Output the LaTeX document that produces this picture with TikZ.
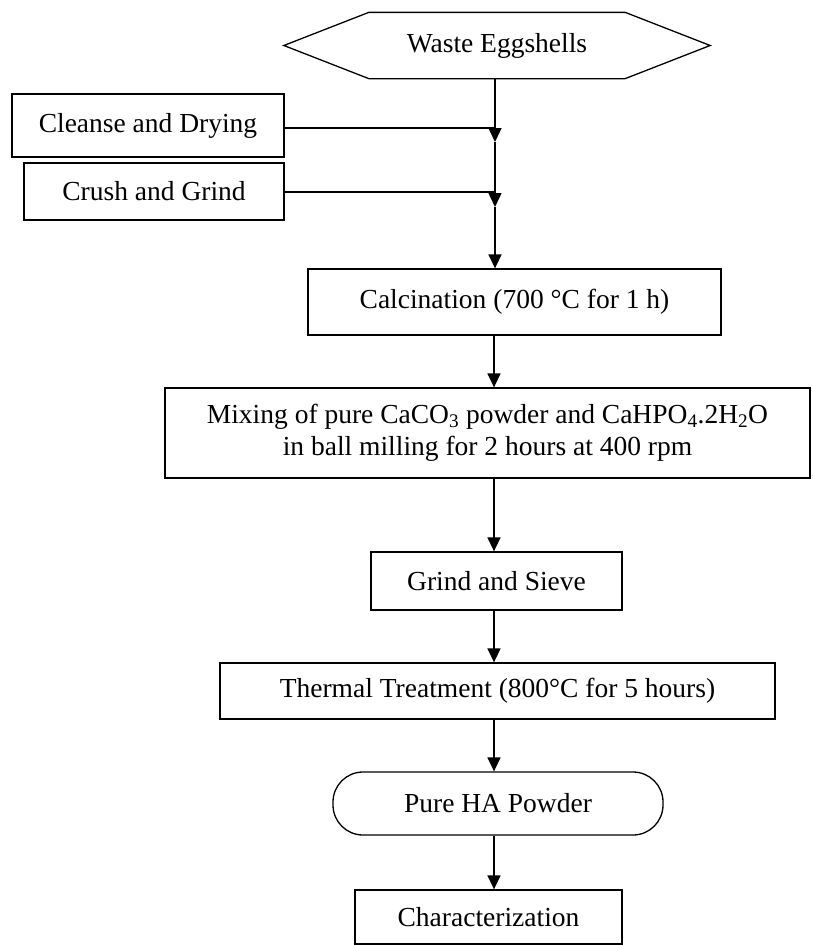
\documentclass[tikz,border=0pt]{standalone}
\usepackage{fontspec}
\setmainfont{Liberation Serif}
\usetikzlibrary{arrows.meta,calc}
\begin{document}
\begin{tikzpicture}[x=1pt,y=-1pt,
  box/.style={draw, line width=1.3pt, inner sep=0pt, align=center,
    font=\fontsize{27.5}{32}\selectfont},
  ln/.style={line width=1.5pt},
  arr/.style={line width=1.5pt, -{Triangle[length=14pt,width=13pt]}}]
\useasboundingbox (0,0) rectangle (812,945);
% nodes
\node[box, draw=none, minimum width=425pt, minimum height=65pt] (hex) at (497,45.5) {Waste Eggshells};
\draw[line width=1.3pt] (hex.west) -- ([xshift=85pt]hex.north west) -- ([xshift=-85pt]hex.north east)
  -- (hex.east) -- ([xshift=-85pt]hex.south east) -- ([xshift=85pt]hex.south west) -- cycle;
\node[box, minimum width=272pt, minimum height=63pt] (clean) at (148,125.5) {Cleanse and Drying};
\node[box, minimum width=260pt, minimum height=57pt] (crush) at (154,191.5) {Crush and Grind};
\node[box, minimum width=413pt, minimum height=66pt] (calc) at (514.5,302) {Calcination (700 °C for 1 h)};
\node[box, minimum width=645pt, minimum height=90pt] (mix) at (487.5,433)
  {Mixing of pure CaCO\textsubscript{3} powder and CaHPO\textsubscript{4}.2H\textsubscript{2}O\\in ball milling for 2 hours at 400 rpm};
\node[box, minimum width=251pt, minimum height=58pt] (grind) at (496.5,581) {Grind and Sieve};
\node[box, minimum width=555pt, minimum height=56pt] (therm) at (497.5,691) {Thermal Treatment (800°C for 5 hours)};
\node[box, rounded corners=30pt, minimum width=330pt, minimum height=63pt] (pure) at (498,803.5) {Pure HA Powder};
\node[box, minimum width=267pt, minimum height=54pt] (char) at (488.5,917) {Characterization};
% junctions
\coordinate (j1) at (495,142);
\coordinate (j2) at (495,207);
\coordinate (ax) at (494,0);
% connectors
\draw[arr] (hex.south -| j1) -- (j1);
\draw[arr] (j1) -- (j2);
\draw[arr] (j2) -- (j2 |- calc.north);
\draw[ln] (clean.east |- 0,128) -- (j1 |- 0,128);
\draw[ln] (crush.east |- 0,192) -- (j1 |- 0,192);
\draw[arr] (calc.south -| ax) -- (mix.north -| ax);
\draw[arr] (mix.south -| ax) -- (grind.north -| ax);
\draw[arr] (grind.south -| ax) -- (therm.north -| ax);
\draw[arr] (therm.south -| ax) -- (pure.north -| ax);
\draw[arr] (pure.south -| ax) -- (char.north -| ax);
\end{tikzpicture}
\end{document}
